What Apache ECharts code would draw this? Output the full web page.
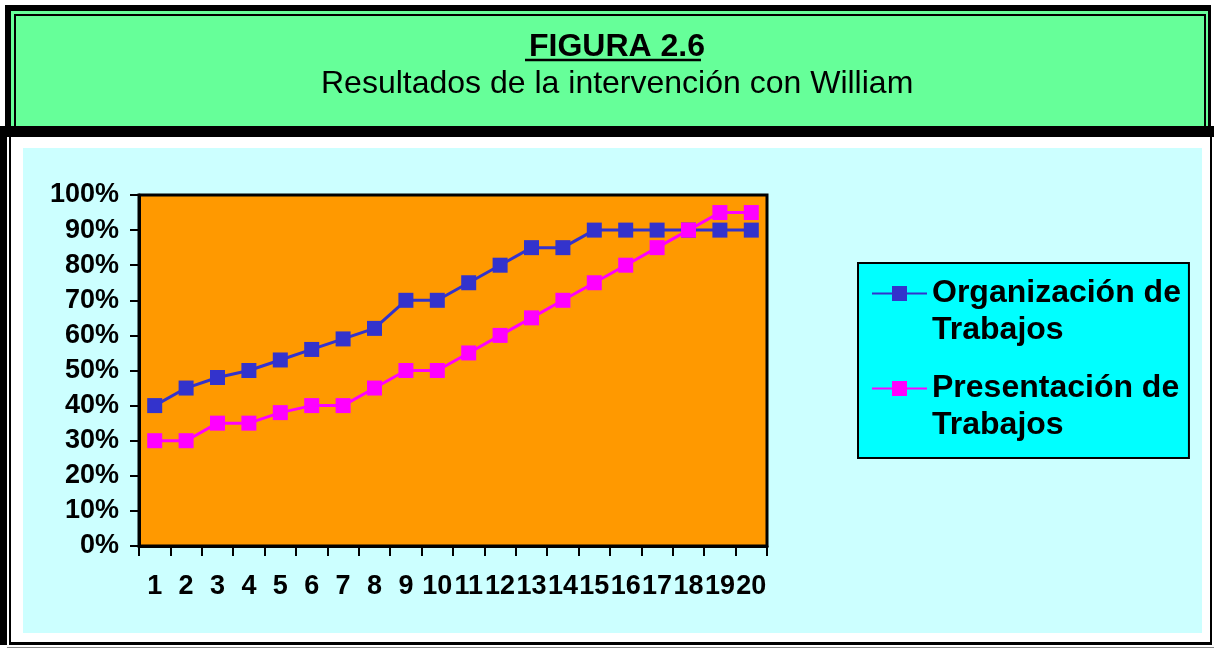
<!DOCTYPE html>
<html>
<head>
<meta charset="utf-8">
<script src="https://cdn.jsdelivr.net/npm/echarts@6/dist/echarts.min.js"></script>
<style>
  html, body { margin: 0; padding: 0; background: #fff; }
  #wrap { position: relative; width: 1214px; height: 651px; overflow: hidden; background: #fff; }
  .b { position: absolute; }
  #chart { position: absolute; left: 0; top: 0; width: 1214px; height: 651px; }
</style>
</head>
<body>
<div id="wrap">
  <!-- header frame -->
  <div class="b" style="left:5px;top:5px;width:1206px;height:122px;background:#000;"></div>
  <div class="b" style="left:11px;top:11px;width:1197px;height:116px;background:#66FF99;"></div>
  <div class="b" style="left:14px;top:14px;width:1188px;height:110px;border:2px solid #000;border-bottom:none;background:#66FF99;"></div>
  <!-- separator band -->
  <div class="b" style="left:0px;top:126px;width:1214px;height:11px;background:#000;"></div>
  <!-- lower frame -->
  <div class="b" style="left:0px;top:126px;width:7px;height:519px;background:#000;"></div>
  <div class="b" style="left:9px;top:137px;width:2px;height:508px;background:#000;"></div>
  <div class="b" style="left:9px;top:642px;width:1203px;height:3px;background:#000;"></div>
  <div class="b" style="left:1210px;top:137px;width:2px;height:508px;background:#000;"></div>
  <div class="b" style="left:7px;top:647px;width:1207px;height:1px;background:#888;"></div>
  <!-- chart area background -->
  <div class="b" style="left:23px;top:148px;width:1179px;height:485px;background:#CCFFFF;"></div>
  <div id="chart"></div>
</div>
<script>
const categories = ['1','2','3','4','5','6','7','8','9','10','11','12','13','14','15','16','17','18','19','20'];
const organizacionTrabajos = [40,45,48,50,53,56,59,62,70,70,75,80,85,85,90,90,90,90,90,90];
const presentacionTrabajos = [30,30,35,35,38,40,40,45,50,50,55,60,65,70,75,80,85,90,95,95];
const seriesNames = ['Organización de Trabajos', 'Presentación de Trabajos'];
const seriesColors = ['#3333CC', '#FF00FF'];
const titleText = 'FIGURA 2.6';
const subtitleText = 'Resultados de la intervención con William';

const FONT = '"Liberation Sans", Arial, Helvetica, sans-serif';
const legendIcon = 'path://M0 0 M55 74 M0 17.5 L20 17.5 L20 11 L35 11 L35 17.5 L55 17.5 L55 19.5 L35 19.5 L35 26 L20 26 L20 19.5 L0 19.5 Z';

const chart = echarts.init(document.getElementById('chart'), null, { renderer: 'canvas' });
chart.setOption({
  backgroundColor: 'transparent',
  animation: false,
  title: [
    {
      text: titleText, left: 524, top: 24,
      textStyle: { fontFamily: FONT, fontSize: 32, fontWeight: 'bold', color: '#000', lineHeight: 36 }
    },
    {
      text: subtitleText, left: 316, top: 61,
      textStyle: { fontFamily: FONT, fontSize: 32, fontWeight: 'normal', color: '#000', lineHeight: 36 }
    }
  ],
  graphic: [
    { type: 'line', silent: true, shape: { x1: 525, y1: 60, x2: 701, y2: 60 }, style: { stroke: '#000', lineWidth: 2.5 } }
  ],
  legend: {
    orient: 'vertical',
    left: 858, top: 263,
    padding: [12, 8, 14, 14],
    itemGap: 21,
    itemWidth: 55, itemHeight: 74,
    backgroundColor: '#00FFFF',
    borderColor: '#000', borderWidth: 2, borderRadius: 0,
    selectedMode: false,
    data: seriesNames.map(n => ({ name: n, icon: legendIcon })),
    formatter: name => name.replace(' Trabajos', '\nTrabajos'),
    textStyle: { fontFamily: FONT, fontSize: 32, fontWeight: 'bold', color: '#000', lineHeight: 37 }
  },
  grid: {
    left: 139, top: 195, width: 628, height: 351,
    show: true, backgroundColor: '#FF9900', borderColor: '#000', borderWidth: 3,
    containLabel: false
  },
  xAxis: {
    type: 'category',
    data: categories,
    boundaryGap: true,
    axisLine: { show: true, lineStyle: { color: '#000', width: 3 } },
    axisTick: { show: true, alignWithLabel: false, interval: 0, length: 10, inside: false, lineStyle: { color: '#000', width: 2 } },
    axisLabel: { interval: 0, margin: 27, fontFamily: FONT, fontSize: 27, fontWeight: 'bold', color: '#000' },
    splitLine: { show: false }
  },
  yAxis: {
    type: 'value',
    min: 0, max: 100, interval: 10,
    axisLine: { show: true, lineStyle: { color: '#000', width: 3 } },
    axisTick: { show: true, length: 9, inside: false, lineStyle: { color: '#000', width: 2 } },
    axisLabel: { formatter: '{value}%', margin: 20, fontFamily: FONT, fontSize: 27, fontWeight: 'bold', color: '#000' },
    splitLine: { show: false }
  },
  series: [
    {
      name: seriesNames[0], type: 'line', data: organizacionTrabajos,
      symbol: 'rect', symbolSize: 15,
      itemStyle: { color: seriesColors[0] },
      lineStyle: { color: seriesColors[0], width: 3 },
      emphasis: { disabled: true }
    },
    {
      name: seriesNames[1], type: 'line', data: presentacionTrabajos,
      symbol: 'rect', symbolSize: 15,
      itemStyle: { color: seriesColors[1] },
      lineStyle: { color: seriesColors[1], width: 3 },
      emphasis: { disabled: true }
    }
  ]
});
</script>
</body>
</html>
